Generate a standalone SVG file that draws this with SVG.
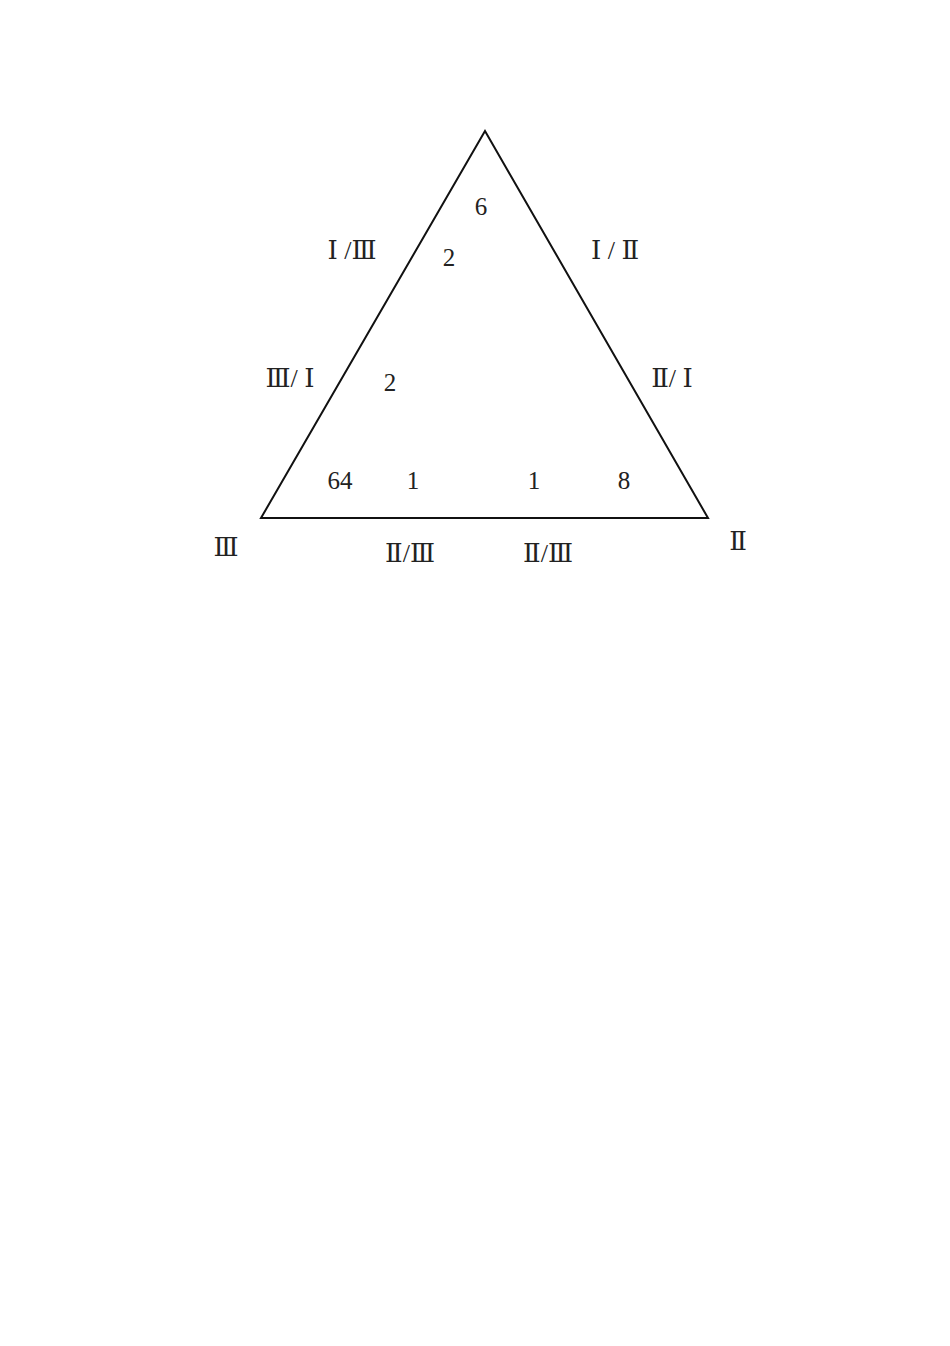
<svg xmlns="http://www.w3.org/2000/svg" width="950" height="1346" viewBox="0 0 950 1346">
<style>
text{font-family:"Liberation Serif","DejaVu Serif",serif;fill:#222;text-anchor:middle;white-space:pre}
.r{font-size:26px}
.n{font-size:25px}
</style>
<rect width="950" height="1346" fill="#fff"/>
<g id="connectors">
<polygon points="485,131 261,518 708,518" fill="none" stroke="#111" stroke-width="2"/>
</g>
<g id="labels">
<text class="r" x="352" y="259" xml:space="preserve">Ⅰ /Ⅲ</text>
<text class="r" x="615" y="259" xml:space="preserve">Ⅰ / Ⅱ</text>
<text class="r" x="290" y="387" xml:space="preserve">Ⅲ/ Ⅰ</text>
<text class="r" x="672" y="387" xml:space="preserve">Ⅱ/ Ⅰ</text>
<text class="r" x="226" y="556">Ⅲ</text>
<text class="r" x="410" y="562">Ⅱ/Ⅲ</text>
<text class="r" x="548" y="562">Ⅱ/Ⅲ</text>
<text class="r" x="738" y="550">Ⅱ</text>
</g>
<g id="numbers">
<text class="n" x="481" y="215">6</text>
<text class="n" x="449" y="266">2</text>
<text class="n" x="390" y="391">2</text>
<text class="n" x="340" y="489">64</text>
<text class="n" x="413" y="489">1</text>
<text class="n" x="534" y="489">1</text>
<text class="n" x="624" y="489">8</text>
</g>
</svg>
